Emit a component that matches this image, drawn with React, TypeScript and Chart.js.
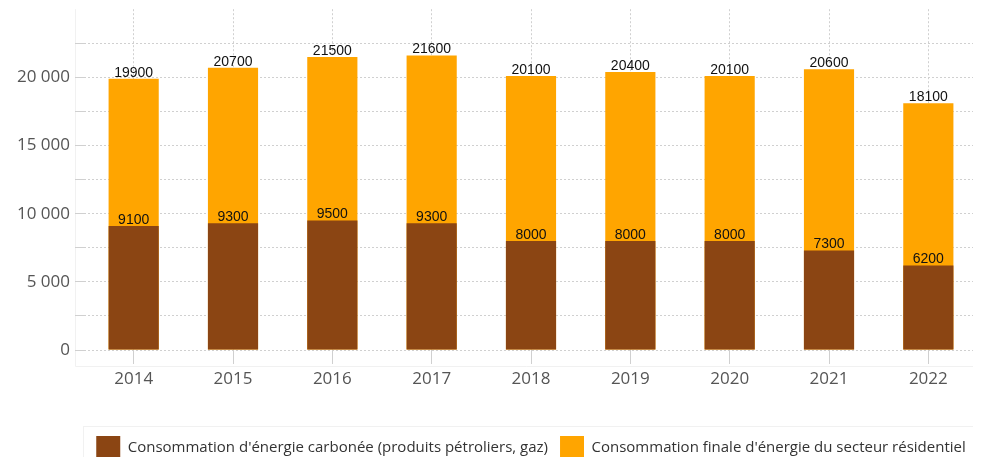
import React, { useEffect, useRef } from "react";
import { Chart, registerables } from "chart.js";

Chart.register(...registerables);

const years = ["2014", "2015", "2016", "2017", "2018", "2019", "2020", "2021", "2022"];
const carbonValues = [9100, 9300, 9500, 9300, 8000, 8000, 8000, 7300, 6200];
const totalValues = [19900, 20700, 21500, 21600, 20100, 20400, 20100, 20600, 18100];
const carbonLabel = "Consommation d'énergie carbonée (produits pétroliers, gaz)";
const totalLabel = "Consommation finale d'énergie du secteur résidentiel";

const BROWN = "#8B4513";
const ORANGE = "#FFA500";
const GRID = "#d0d0d0";

const fmt = (v: number) => String(v).replace(/\B(?=(\d{3})+(?!\d))/g, " ");

const valueLabels = {
  id: "valueLabels",
  afterDatasetsDraw(chart: any) {
    const ctx = chart.ctx;
    ctx.save();
    ctx.font = '14px "Liberation Sans", Arial, sans-serif';
    ctx.fillStyle = "#111";
    ctx.textAlign = "center";
    ctx.textBaseline = "bottom";
    chart.data.datasets.forEach((ds: any, i: number) => {
      const meta = chart.getDatasetMeta(i);
      meta.data.forEach((bar: any, j: number) => {
        ctx.fillText(String(ds.data[j]), bar.x, bar.y + 1);
      });
    });
    ctx.restore();
  },
};

const faintFrames = {
  id: "faintFrames",
  beforeDraw(chart: any) {
    const { ctx, chartArea, legend } = chart;
    ctx.save();
    ctx.strokeStyle = "#f1f1f1";
    ctx.lineWidth = 1;
    const l = chartArea.left - 9 + 0.5;
    const b = chartArea.bottom + 16 + 0.5;
    ctx.beginPath();
    ctx.moveTo(l, chartArea.top);
    ctx.lineTo(l, b);
    ctx.lineTo(chartArea.right, b);
    ctx.stroke();
    if (legend) {
      ctx.strokeRect(legend.left - 0.5, legend.top + 2.5, legend.right - legend.left, legend.bottom - legend.top);
    }
    ctx.restore();
  },
};

export default function App() {
  const ref = useRef<HTMLCanvasElement | null>(null);
  useEffect(() => {
    if (!ref.current) return;
    const chart = new Chart(ref.current, {
      type: "bar",
      data: {
        labels: years,
        datasets: [
          {
            label: carbonLabel,
            data: carbonValues,
            backgroundColor: BROWN,
            grouped: false,
            barPercentage: 0.505,
            categoryPercentage: 1,
          } as any,
          {
            label: totalLabel,
            data: totalValues,
            backgroundColor: ORANGE,
            grouped: false,
            barPercentage: 0.505,
            categoryPercentage: 1,
          } as any,
        ],
      },
      options: {
        animation: false,
        responsive: true,
        maintainAspectRatio: false,
        layout: { padding: 0 },
        scales: {
          x: {
            grid: {
              offset: false,
              color: GRID,
              tickLength: 14,
              tickColor: GRID,
            } as any,
            border: { display: false, dash: [2, 2] },
            ticks: {
              color: "#555",
              font: { family: '"Open Sans", sans-serif', size: 17 },
              padding: 5,
            },
            afterFit: (scale: any) => {
              scale.height = 74;
            },
          },
          y: {
            min: 0,
            max: 25000,
            grid: {
              color: GRID,
              tickLength: 9,
              tickColor: GRID,
            },
            border: { display: false, dash: [2, 2] },
            ticks: {
              stepSize: 2500,
              color: "#555",
              font: { family: '"Open Sans", sans-serif', size: 17 },
              padding: 5,
              callback: (v: any) => {
                const n = Number(v);
                if (n >= 25000) return null as any;
                return n % 5000 === 0 ? fmt(n) : "";
              },
            },
            afterFit: (scale: any) => {
              scale.width = 76;
            },
          },
        },
        plugins: {
          legend: {
            position: "bottom",
            fullSize: false,
            labels: {
              boxWidth: 24,
              boxHeight: 24,
              padding: 12,
              color: "#333",
              font: { family: '"Open Sans", sans-serif', size: 15 },
            },
          },
          tooltip: { enabled: false },
        },
      } as any,
      plugins: [valueLabels, faintFrames],
    });
    return () => chart.destroy();
  }, []);

  return (
    <div style={{ width: "100%", overflow: "hidden" }}>
      <div style={{ width: 970, height: 476, marginTop: -14, position: "relative" }}>
        <canvas ref={ref} />
      </div>
    </div>
  );
}
